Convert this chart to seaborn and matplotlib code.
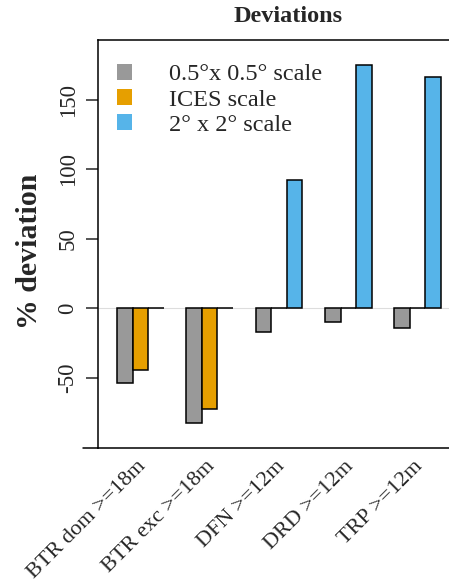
import numpy as np
import pandas as pd
import matplotlib
matplotlib.use("Agg")
import matplotlib.pyplot as plt
import matplotlib.transforms as mtransforms
from matplotlib.patches import Patch
import seaborn as sns

# data
categories = ["BTR dom >=18m", "BTR exc >=18m", "DFN >=12m", "DRD >=12m", "TRP >=12m"]
series = ["0.5°x 0.5° scale", "ICES scale", "2° x 2° scale"]
fine_vals = [-54, -82.5, -17, -10, -14]
ices_vals = [-44.5, -72.5, 0, 0, 0]
coarse_vals = [0, 0, 92, 175, 166.5]
colors = ["#999999", "#E69F00", "#56B4E9"]

df = pd.DataFrame({
    "cat": categories * 3,
    "scale": [series[0]] * 5 + [series[1]] * 5 + [series[2]] * 5,
    "dev": fine_vals + ices_vals + coarse_vals,
})

sns.set_style("white")
plt.rcParams['font.family'] = ['Liberation Serif', 'DejaVu Serif']

W, H = 449, 586
fig = plt.figure(figsize=(W / 100, H / 100), dpi=100)
# plot box runs a little past the right edge, as in the original
ax = fig.add_axes([98 / W, 1 - 448 / H, (478 - 98) / W, (448 - 40) / H])

ax.axhline(0, color="#dddddd", lw=0.8, zorder=0)
sns.barplot(data=df, x="cat", y="dev", hue="scale", hue_order=series,
            order=categories, palette=colors, width=0.67, saturation=1,
            edgecolor="black", linewidth=1.1, legend=False, ax=ax, zorder=2)

ax.set_xlim(-0.61, 4.87)
ax.set_ylim(-100.5, 193)
ax.set_yticks([-50, 0, 50, 100, 150])
ax.set_yticklabels(["-50", "0", "50", "100", "150"], rotation=90, va="center", fontsize=16.5)
ax.tick_params(axis="y", length=9, width=1.1, pad=5, left=True)
ax.tick_params(axis="x", length=0, pad=6.5)

ax.set_xticks(range(len(categories)))
ax.set_xticklabels(categories, rotation=45, ha="right", rotation_mode="anchor", fontsize=16)
offset = mtransforms.ScaledTranslation(-3 / 72, 0, fig.dpi_scale_trans)
for lab in ax.get_xticklabels():
    lab.set_transform(lab.get_transform() + offset)

for s in ax.spines.values():
    s.set_color("black")
    s.set_linewidth(1.1)
# bottom line reaches a bit left of the y axis
ax.plot([-0.04, 0], [0, 0], transform=ax.transAxes, color="black", lw=1.1, clip_on=False)

ax.set_xlabel("")
ax.set_ylabel("% deviation", fontsize=21.5, fontweight="bold", labelpad=10.5, y=0.483)
fig.text(288 / W, 1 - 17 / H, "Deviations", ha="center", va="center",
         fontsize=17.5, fontweight="bold")

handles = [Patch(facecolor=c, edgecolor="none") for c in colors]
ax.legend(handles, series, loc="upper left", frameon=False, fontsize=17.5,
          handlelength=0.62, handleheight=0.62, handletextpad=1.5,
          labelspacing=0.15, borderaxespad=0.0, borderpad=0.0,
          bbox_to_anchor=(19 / 380, 1 - 24 / 408))

fig.savefig("out.png", dpi=100)
